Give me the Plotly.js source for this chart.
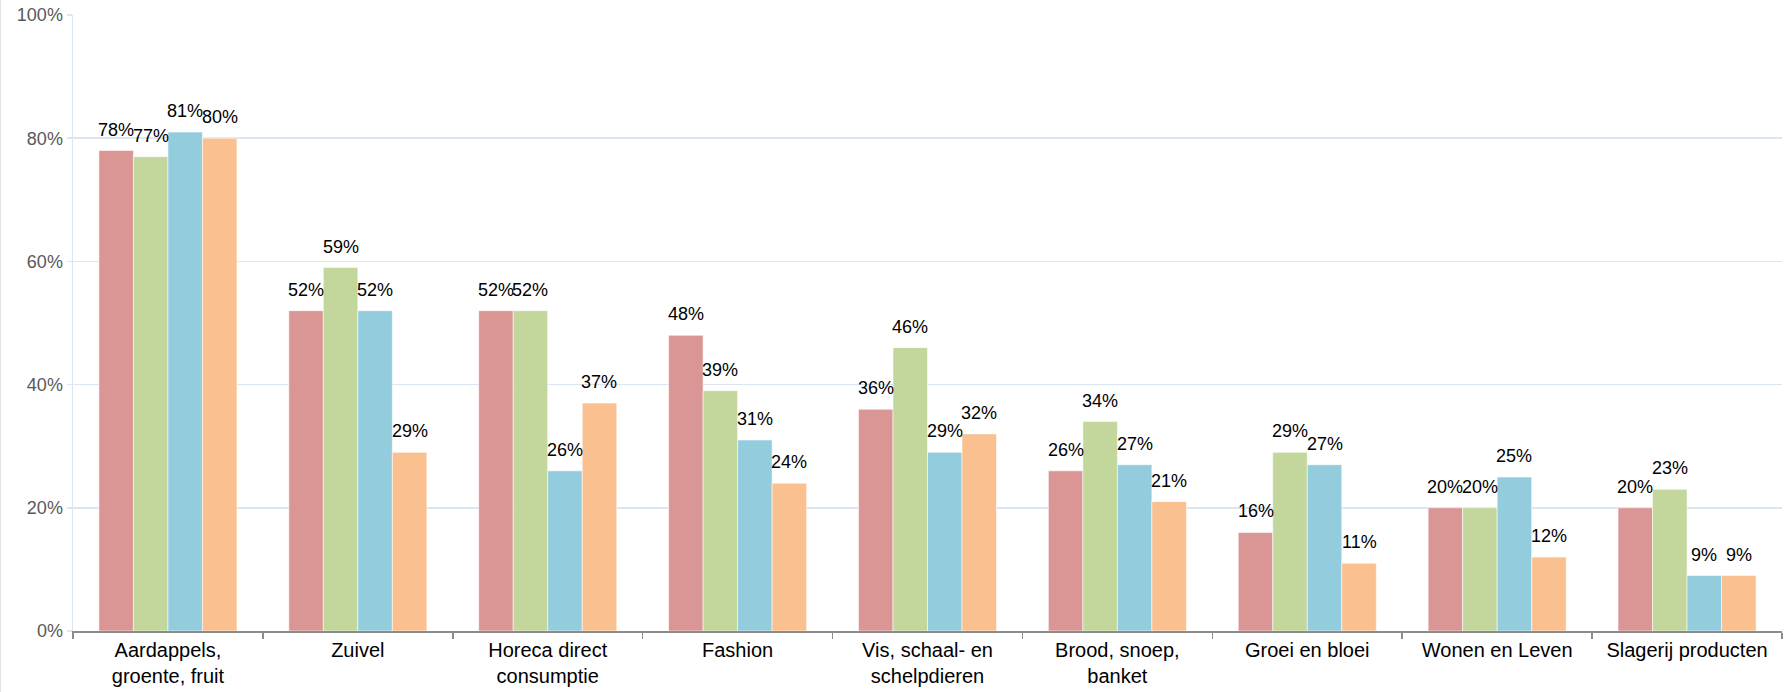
<!DOCTYPE html>
<html>
<head>
<meta charset="utf-8">
<script src="https://cdn.plot.ly/plotly-3.0.1.min.js"></script>
<style>html,body{margin:0;padding:0;background:#fff;}#chart{width:1791px;height:692px;}</style>
</head>
<body>
<div id="chart"></div>
<script>
const categories = [
  "Aardappels,<br>groente, fruit",
  "Zuivel",
  "Horeca direct<br>consumptie",
  "Fashion",
  "Vis, schaal- en<br>schelpdieren",
  "Brood, snoep,<br>banket",
  "Groei en bloei",
  "Wonen en Leven",
  "Slagerij producten"
];
const series1 = [78, 52, 52, 48, 36, 26, 16, 20, 20];
const series2 = [77, 59, 52, 39, 46, 34, 29, 20, 23];
const series3 = [81, 52, 26, 31, 29, 27, 27, 25, 9];
const series4 = [80, 29, 37, 24, 32, 21, 11, 12, 9];
const seriesNames = ["Serie 1", "Serie 2", "Serie 3", "Serie 4"];
const yTickVals = [0, 20, 40, 60, 80, 100];
const yTickLabels = ["0%", "20%", "40%", "60%", "80%", "100%"];

const allSeries = [series1, series2, series3, series4];
const colors = ["#D99694", "#C3D69B", "#93CDDD", "#FAC090"];
const bargap = 0.273;
const barW = (1 - bargap) / allSeries.length;

const traces = allSeries.map((vals, i) => ({
  type: "bar",
  name: seriesNames[i],
  x: categories,
  y: vals,
  marker: { color: colors[i], line: { color: "rgba(255,255,255,0.55)", width: 1 } },
  hoverinfo: "x+y"
}));

const annotations = [];
allSeries.forEach((vals, i) => {
  vals.forEach((v, j) => {
    annotations.push({
      x: j + (i - (allSeries.length - 1) / 2) * barW,
      y: v,
      xref: "x", yref: "y",
      text: v + "%",
      showarrow: false,
      yanchor: "bottom",
      xanchor: "center",
      yshift: 9,
      font: { family: "Liberation Sans, Arial, sans-serif", size: 18, color: "#000000" }
    });
  });
});

const layout = {
  width: 1791, height: 692,
  margin: { l: 73, r: 9, t: 15, b: 61 },
  paper_bgcolor: "#ffffff",
  plot_bgcolor: "#ffffff",
  barmode: "group",
  bargap: bargap,
  bargroupgap: 0,
  showlegend: false,
  font: { family: "Liberation Sans, Arial, sans-serif" },
  xaxis: {
    type: "category",
    tickson: "boundaries",
    ticks: "outside",
    ticklen: 6,
    tickwidth: 1.5,
    tickcolor: "#8C8C8C",
    showline: true,
    linecolor: "#8C8C8C",
    linewidth: 1.5,
    showgrid: false,
    tickfont: { size: 20, color: "#000000" },
    fixedrange: true
  },
  yaxis: {
    range: [0, 100],
    tickmode: "array",
    tickvals: yTickVals,
    ticktext: yTickLabels,
    showgrid: true,
    gridcolor: "#DCE6F2",
    gridwidth: 1.5,
    showline: true,
    linecolor: "#DCE6F2",
    linewidth: 1.5,
    ticks: "outside",
    ticklen: 5,
    tickcolor: "#DCE6F2",
    tickwidth: 1.5,
    zeroline: false,
    tickfont: { size: 18, color: "#595959" },
    fixedrange: true
  },
  annotations: annotations,
  shapes: [{
    type: "line", xref: "paper", yref: "paper",
    x0: -73 / 1709, x1: -73 / 1709, y0: -0.1, y1: 1.1,
    line: { color: "#D9D9D9", width: 1.5 }
  }]
};

Plotly.newPlot("chart", traces, layout, { displayModeBar: false, staticPlot: true });
</script>
</body>
</html>
